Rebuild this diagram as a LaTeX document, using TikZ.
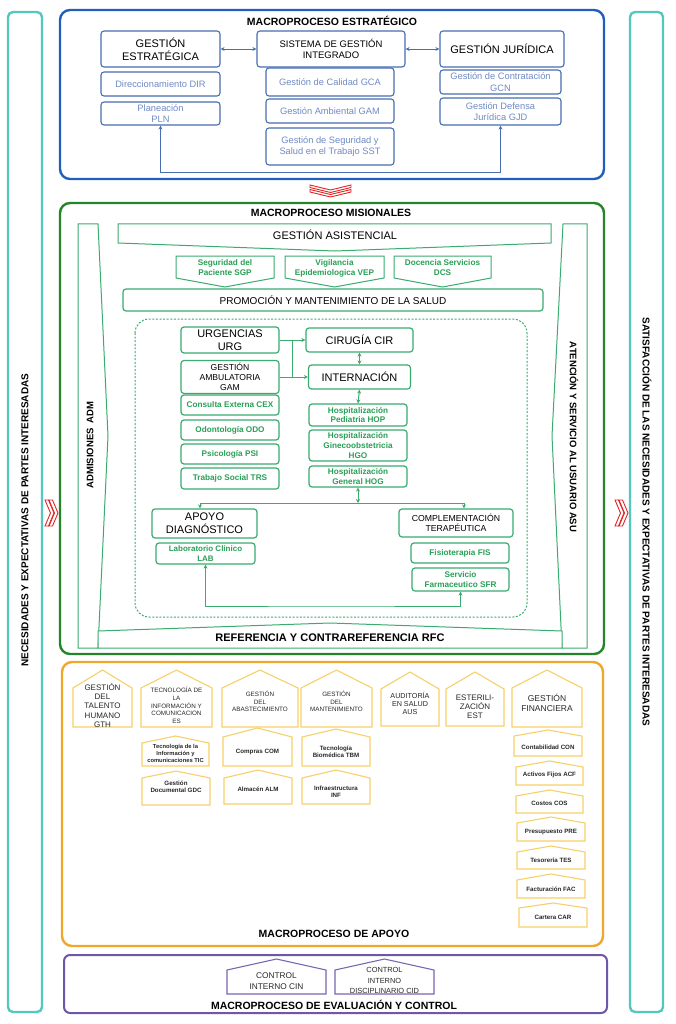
\documentclass[tikz,border=0pt]{standalone}
\usepackage{fontspec}
\setmainfont{Liberation Sans}
\usetikzlibrary{calc,arrows.meta}
\definecolor{blueO}{RGB}{32,96,186}
\definecolor{blueB}{RGB}{72,110,176}
\definecolor{blueT}{RGB}{112,138,196}
\definecolor{greenO}{RGB}{36,132,42}
\definecolor{greenM}{RGB}{58,172,112}
\definecolor{greenT}{RGB}{40,160,86}
\definecolor{orangeO}{RGB}{240,168,42}
\definecolor{orangeL}{RGB}{246,208,104}
\definecolor{purpleO}{RGB}{112,86,166}
\definecolor{purpleL}{RGB}{122,102,176}
\definecolor{tealS}{RGB}{82,200,190}
\definecolor{redC}{RGB}{226,36,36}
\definecolor{darkT}{RGB}{40,40,40}
\newcommand{\houseshape}[6]{%
  \draw[#1] (#2,#5) -- ({(#2+#3)/2},#4) -- (#3,#5) -- (#3,#6) -- (#2,#6) -- cycle;}
\begin{document}
\begin{tikzpicture}[x=1pt,y=-1pt,
  every node/.style={inner sep=0pt},
  ttl/.style={font=\bfseries\fontsize{10.5}{12}\selectfont},
  outer/.style={line width=2.4pt, rounded corners=10pt, fill=white},
  bmain/.style={draw=blueB, line width=1.1pt, rounded corners=3pt, inner sep=1pt, align=center, fill=white, font=\fontsize{11}{12.6}\selectfont},
  bsub/.style={bmain, text=blueT, font=\fontsize{9.3}{11.3}\selectfont},
  barr/.style={{Stealth[length=4pt,width=4pt]}-{Stealth[length=4pt,width=4pt]}, draw=blueB, line width=0.9pt},
  garr/.style={-{Stealth[length=4pt,width=4pt]}, draw=greenM, line width=1pt},
  gdarr/.style={{Stealth[length=4pt,width=4pt]}-{Stealth[length=4pt,width=4pt]}, draw=greenM, line width=1pt},
  gpanel/.style={draw=greenM, line width=1pt, fill=white},
  gbox/.style={draw=greenM, line width=1.2pt, rounded corners=3pt, inner sep=1pt, align=center, fill=white, font=\fontsize{11}{12.6}\selectfont},
  gsub/.style={gbox, text=greenT, font=\bfseries\fontsize{8.2}{9.6}\selectfont},
  gtext/.style={align=center, text=greenT, font=\bfseries\fontsize{8.2}{10}\selectfont},
  ohouse/.style={draw=orangeL, line width=1.1pt, fill=white},
  ohdr/.style={align=center, text=darkT, font=\fontsize{6.3}{7.6}\selectfont},
  osub/.style={align=center, text=darkT, font=\bfseries\fontsize{6.2}{7.4}\selectfont},
  phouse/.style={draw=purpleL, line width=1.1pt, fill=white},
  chev/.style={draw=redC, line width=0.9pt, fill=white, line join=miter},
  side/.style={font=\bfseries\fontsize{10}{12}\selectfont}
]
\useasboundingbox (0,0) rectangle (676,1024);

% ---------- side bars ----------
\draw[draw=tealS, line width=2.4pt, rounded corners=5pt] (8,12) rectangle (42,1012);
\draw[draw=tealS, line width=2.4pt, rounded corners=5pt] (630,12) rectangle (663,1012);
\node[side, rotate=90] (lside) at (25,520) {NECESIDADES Y EXPECTATIVAS DE PARTES INTERESADAS};
\node[side, rotate=-90] (rside) at (647,522) {SATISFACCIÓN DE LAS NECESIDADES Y EXPECTATIVAS DE PARTES INTERESADAS};

% chevrons
\foreach \d in {0,4} {
  \draw[chev] ({45+\d},500) -- ({48.5+\d},500) -- ({54+\d},513) -- ({48.5+\d},526) -- ({45+\d},526) -- ({50.5+\d},513) -- cycle;
  \draw[chev] ({615+\d},500) -- ({618.5+\d},500) -- ({624+\d},513) -- ({618.5+\d},526) -- ({615+\d},526) -- ({620.5+\d},513) -- cycle;
}
\foreach \d in {0,4.5} {
  \draw[chev] (310,{185+\d}) -- (330.5,{190+\d}) -- (351,{185+\d}) -- (351,{187.5+\d}) -- (330.5,{192.5+\d}) -- (310,{187.5+\d}) -- cycle;
}

% ---------- MACROPROCESO ESTRATEGICO ----------
\draw[outer, draw=blueO] (60,10) rectangle (604,179);
\node[ttl] (tE) at (332,21) {MACROPROCESO ESTRATÉGICO};
\node[bmain, minimum width=119pt, minimum height=36pt] (ge) at (160.5,49) {GESTIÓN\\ESTRATÉGICA};
\node[bmain, font=\fontsize{9.5}{11}\selectfont, minimum width=148pt, minimum height=36pt] (sgi) at (331,49) {SISTEMA DE GESTIÓN\\INTEGRADO};
\node[bmain, minimum width=124pt, minimum height=36pt] (gj) at (502,49) {GESTIÓN JURÍDICA};
\node[bsub, minimum width=119pt, minimum height=24pt] (dir) at (160.5,84) {Direccionamiento DIR};
\node[bsub, minimum width=119pt, minimum height=23pt] (pln) at (160.5,113.5) {Planeación\\PLN};
\node[bsub, minimum width=128pt, minimum height=28pt] (gca) at (330,82) {Gestión de Calidad GCA};
\node[bsub, minimum width=128pt, minimum height=24pt] (gamb) at (330,111) {Gestión Ambiental GAM};
\node[bsub, minimum width=128pt, minimum height=37pt] (sst) at (330,146.5) {Gestión de Seguridad y\\Salud en el Trabajo SST};
\node[bsub, minimum width=121pt, minimum height=24pt] (gcn) at (500.5,82) {Gestión de Contratación\\GCN};
\node[bsub, minimum width=121pt, minimum height=27pt] (gjd) at (500.5,111.5) {Gestión Defensa\\Jurídica GJD};
\draw[barr] (ge.east) -- (sgi.west);
\draw[barr] (sgi.east) -- (gj.west);
\coordinate (sbl) at (160.5,172);
\coordinate (sbr) at (500.5,172);
\draw[barr] (pln.south) -- (sbl) -- (sbr) -- (gjd.south);

% ---------- MACROPROCESO MISIONALES ----------
\draw[outer, draw=greenO] (60,203) rectangle (604,654);
\node[ttl] (tM) at (331,213) {MACROPROCESO MISIONALES};
\draw[gpanel] (78,224) -- (98,224) -- (108,436) -- (98,648) -- (78,648) -- cycle;
\node[rotate=90, font=\bfseries\fontsize{9.5}{11}\selectfont] (adm) at (90,445) {ADMISIONES\enspace ADM};
\draw[gpanel] (587,224) -- (563,224) -- (552,436) -- (562,648) -- (587,648) -- cycle;
\node[rotate=-90, font=\bfseries\fontsize{9.5}{11}\selectfont] (asu) at (574,437) {ATENCIÓN Y SERVICIO AL USUARIO ASU};
\draw[gpanel] (118,224) -- (551,224) -- (551,243) -- (335,251) -- (118,243) -- cycle;
\node[font=\fontsize{11}{12}\selectfont] (gasis) at (335,235) {GESTIÓN ASISTENCIAL};
\draw[gpanel] (176,256) -- (274,256) -- (274,278) -- (225,287) -- (176,278) -- cycle;
\node[gtext] (sgp) at (225,268) {Seguridad del\\Paciente SGP};
\draw[gpanel] (285,256) -- (384,256) -- (384,278) -- (334.5,287) -- (285,278) -- cycle;
\node[gtext] (vep) at (334.5,268) {Vigilancia\\Epidemiologica VEP};
\draw[gpanel] (394,256) -- (491,256) -- (491,278) -- (442.5,287) -- (394,278) -- cycle;
\node[gtext] (dcs) at (442.5,268) {Docencia Servicios\\DCS};
\node[gbox, font=\fontsize{10}{12}\selectfont, minimum width=420pt, minimum height=22pt] (promo) at (333,300) {PROMOCIÓN Y MANTENIMIENTO DE LA SALUD};
\draw[draw=greenM, line width=1pt, dash pattern=on 2pt off 1.6pt, rounded corners=14pt] (135,319) rectangle (527,617);

\node[gbox, minimum width=98pt, minimum height=26pt] (urg) at (230,340) {URGENCIAS\\URG};
\node[gbox, font=\fontsize{8.6}{10.2}\selectfont, minimum width=98pt, minimum height=33pt] (gam) at (230,377) {GESTIÓN\\AMBULATORIA\\GAM};
\node[gsub, minimum width=98pt, minimum height=20pt] (cex) at (230,405) {Consulta Externa CEX};
\node[gsub, minimum width=98pt, minimum height=20pt] (odo) at (230,430) {Odontología ODO};
\node[gsub, minimum width=98pt, minimum height=20pt] (psi) at (230,454) {Psicología PSI};
\node[gsub, minimum width=98pt, minimum height=21pt] (trs) at (230,478.5) {Trabajo Social TRS};
\node[gbox, minimum width=107pt, minimum height=24pt] (cir) at (359.5,340) {CIRUGÍA CIR};
\node[gbox, minimum width=102pt, minimum height=24pt] (int) at (359.5,377) {INTERNACIÓN};
\node[gsub, minimum width=98pt, minimum height=22pt] (hop) at (358,415) {Hospitalización\\Pediatria HOP};
\node[gsub, minimum width=98pt, minimum height=31pt] (hgo) at (358,445.5) {Hospitalización\\Ginecoobstetricia\\HGO};
\node[gsub, minimum width=98pt, minimum height=21pt] (hog) at (358,476.5) {Hospitalización\\General HOG};
\coordinate (jx) at (292,0);
\draw[garr] (urg.east) -- (cir.west);
\draw[garr] (gam.east) -- (int.west);
\draw[draw=greenM, line width=1pt] (urg.east -| jx) -- (gam.east -| jx);
\draw[gdarr] (cir.south) -- (int.north);
\draw[gdarr] (int.south) -- (hop.north);
\coordinate (busL) at (200,503);
\coordinate (busR) at (464,503);
\draw[gdarr] (hog.south) -- (hog.south |- busL);
\draw[draw=greenM, line width=1pt] (busL) -- (busR);

\node[gbox, minimum width=105pt, minimum height=29pt] (apd) at (204.5,523.5) {APOYO\\DIAGNÓSTICO};
\node[gbox, font=\fontsize{8.7}{10.2}\selectfont, minimum width=114pt, minimum height=28pt] (comp) at (456,523) {COMPLEMENTACIÓN\\TERAPÉUTICA};
\draw[garr] (busL) -- (busL |- apd.north);
\draw[garr] (busR) -- (busR |- comp.north);
\node[gsub, font=\bfseries\fontsize{8}{9.2}\selectfont, minimum width=99pt, minimum height=21pt] (lab) at (205.5,553.5) {Laboratorio Clínico\\LAB};
\node[gsub, minimum width=98pt, minimum height=20pt] (fis) at (460,553) {Fisioterapia FIS};
\node[gsub, minimum width=97pt, minimum height=23pt] (sfr) at (460.5,579.5) {Servicio\\Farmaceutico SFR};
\coordinate (lowbus) at (330,606);
\draw[gdarr] (lab.south) |- (lowbus) -| (sfr.south);

\draw[gpanel] (98,631) -- (330,623) -- (562,631) -- (562,648) -- (98,648) -- cycle;
\node[font=\bfseries\fontsize{11}{12}\selectfont] (rfc) at (330,638) {REFERENCIA Y CONTRAREFERENCIA RFC};

% ---------- MACROPROCESO DE APOYO ----------
\draw[outer, draw=orangeO] (62,662) rectangle (603,946);
\node[ttl] (tA) at (334,934) {MACROPROCESO DE APOYO};
\houseshape{ohouse}{73}{132}{670}{688}{727}
\node[ohdr, font=\fontsize{8}{9.3}\selectfont] (gth) at (102.5,705.5) {GESTIÓN\\DEL\\TALENTO\\HUMANO\\GTH};
\houseshape{ohouse}{141}{212}{670}{688}{727}
\node[ohdr, font=\fontsize{6.3}{7.75}\selectfont] (tich) at (176.5,705.5) {TECNOLOGÍA DE\\LA\\INFORMACIÓN Y\\COMUNICACION\\ES};
\houseshape{ohouse}{222}{298}{670}{688}{727}
\node[ohdr] (abas) at (260,701.5) {GESTIÓN\\DEL\\ABASTECIMIENTO};
\houseshape{ohouse}{301}{372}{670}{688}{727}
\node[ohdr] (mant) at (336.5,701.5) {GESTIÓN\\DEL\\MANTENIMIENTO};
\houseshape{ohouse}{381}{439}{672}{689}{726}
\node[ohdr, font=\fontsize{7.2}{8.3}\selectfont] (aus) at (410,703.5) {AUDITORÍA\\EN SALUD\\AUS};
\houseshape{ohouse}{446}{504}{672}{689}{726}
\node[ohdr, font=\fontsize{8}{9.2}\selectfont] (est) at (475,707) {ESTERILI-\\ZACIÓN\\EST};
\houseshape{ohouse}{512}{582}{670}{688}{727}
\node[ohdr, font=\fontsize{8.5}{10}\selectfont] (gf) at (547,703) {GESTIÓN\\FINANCIERA};

\houseshape{ohouse}{142}{209}{736}{743}{766}
\node[osub, font=\bfseries\fontsize{5.8}{7}\selectfont] (tic) at (175.5,753.5) {Tecnología de la\\Información y\\comunicaciones TIC};
\houseshape{ohouse}{142}{210}{771}{778}{805}
\node[osub] (gdc) at (176,787) {Gestión\\Documental GDC};
\houseshape{ohouse}{223}{292}{728}{737}{766}
\node[osub] (com) at (257.5,752) {Compras COM};
\houseshape{ohouse}{224}{292}{770}{778}{804}
\node[osub] (alm) at (258,789) {Almacén ALM};
\houseshape{ohouse}{302}{370}{729}{737}{766}
\node[osub] (tbm) at (336,752) {Tecnología\\Biomédica TBM};
\houseshape{ohouse}{302}{370}{770}{778}{804}
\node[osub] (inf) at (336,791.5) {Infraestructura\\INF};
\houseshape{ohouse}{514}{582}{730}{736}{756}
\node[osub] (con) at (548,747) {Contabilidad CON};
\houseshape{ohouse}{516}{583}{761}{767}{785}
\node[osub] (acf) at (549.5,775) {Activos Fijos ACF};
\houseshape{ohouse}{516}{583}{790}{796}{813}
\node[osub] (cos) at (549.5,803) {Costos COS};
\houseshape{ohouse}{517}{585}{817}{823}{841}
\node[osub] (pre) at (551,832) {Presupuesto PRE};
\houseshape{ohouse}{517}{585}{846}{852}{869}
\node[osub] (tes) at (551,860.5) {Tesorería TES};
\houseshape{ohouse}{517}{585}{874}{880}{898}
\node[osub] (fac) at (551,889) {Facturación FAC};
\houseshape{ohouse}{519}{587}{903}{908}{927}
\node[osub] (car) at (553,917.5) {Cartera CAR};

% ---------- MACROPROCESO DE EVALUACION Y CONTROL ----------
\draw[line width=2pt, rounded corners=6pt, draw=purpleO, fill=white] (64,955) rectangle (607,1013);
\houseshape{phouse}{227}{326}{959}{970}{994}
\node[align=center, text=darkT, font=\fontsize{8.3}{10.5}\selectfont] (cin) at (276.5,981) {CONTROL\\INTERNO CIN};
\houseshape{phouse}{335}{434}{959}{970}{994}
\node[align=center, text=darkT, font=\fontsize{7.4}{10.2}\selectfont] (cid) at (384.5,980.5) {CONTROL\\INTERNO\\DISCIPLINARIO CID};
\node[ttl] (tC) at (334,1005) {MACROPROCESO DE EVALUACIÓN Y CONTROL};
\end{tikzpicture}
\end{document}
